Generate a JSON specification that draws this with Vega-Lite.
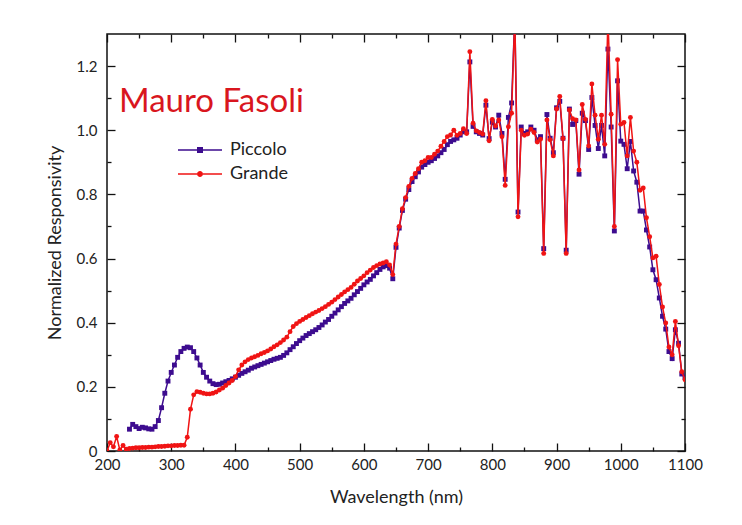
{
"$schema": "https://vega.github.io/schema/vega-lite/v6.json",
"width": 578, "height": 417,
"autosize": "none",
"padding": {"left": 107, "top": 34, "right": 57, "bottom": 74},
"background": "white",
"title": {"text": "Mauro Fasoli", "anchor": "start", "orient": "top", "frame": "group", "offset": 0, "dx": 12, "dy": 133, "baseline": "alphabetic", "font": "Lato", "fontSize": 33, "fontWeight": "normal", "color": "#d9161e"},
"config": {
  "view": {"stroke": "#111", "strokeWidth": 1.5},
  "axis": {"domain": false, "grid": false, "tickColor": "#111", "tickWidth": 1.3, "labelFont": "Lato", "labelFontSize": 15, "labelColor": "#222", "titleFont": "Lato", "titleFontSize": 18, "titleFontWeight": "normal", "titleColor": "#222"}
},
"data": {"values": [
{"series":"Piccolo","nm":235,"value":0.068},{"series":"Piccolo","nm":240,"value":0.083},{"series":"Piccolo","nm":245,"value":0.076},{"series":"Piccolo","nm":250,"value":0.07},{"series":"Piccolo","nm":255,"value":0.074},{"series":"Piccolo","nm":260,"value":0.072},{"series":"Piccolo","nm":265,"value":0.069},{"series":"Piccolo","nm":270,"value":0.068},{"series":"Piccolo","nm":275,"value":0.076},{"series":"Piccolo","nm":280,"value":0.095},{"series":"Piccolo","nm":285,"value":0.135},{"series":"Piccolo","nm":290,"value":0.18},{"series":"Piccolo","nm":295,"value":0.218},{"series":"Piccolo","nm":300,"value":0.245},{"series":"Piccolo","nm":305,"value":0.268},{"series":"Piccolo","nm":310,"value":0.292},{"series":"Piccolo","nm":315,"value":0.31},{"series":"Piccolo","nm":320,"value":0.32},{"series":"Piccolo","nm":325,"value":0.324},{"series":"Piccolo","nm":330,"value":0.322},{"series":"Piccolo","nm":335,"value":0.31},{"series":"Piccolo","nm":340,"value":0.29},{"series":"Piccolo","nm":345,"value":0.268},{"series":"Piccolo","nm":350,"value":0.245},{"series":"Piccolo","nm":355,"value":0.23},{"series":"Piccolo","nm":360,"value":0.218},{"series":"Piccolo","nm":365,"value":0.21},{"series":"Piccolo","nm":370,"value":0.207},{"series":"Piccolo","nm":375,"value":0.208},{"series":"Piccolo","nm":380,"value":0.212},{"series":"Piccolo","nm":385,"value":0.216},{"series":"Piccolo","nm":390,"value":0.22},{"series":"Piccolo","nm":395,"value":0.225},{"series":"Piccolo","nm":400,"value":0.23},{"series":"Piccolo","nm":405,"value":0.236},{"series":"Piccolo","nm":410,"value":0.242},{"series":"Piccolo","nm":415,"value":0.247},{"series":"Piccolo","nm":420,"value":0.252},{"series":"Piccolo","nm":425,"value":0.258},{"series":"Piccolo","nm":430,"value":0.262},{"series":"Piccolo","nm":435,"value":0.266},{"series":"Piccolo","nm":440,"value":0.27},{"series":"Piccolo","nm":445,"value":0.274},{"series":"Piccolo","nm":450,"value":0.278},{"series":"Piccolo","nm":455,"value":0.282},{"series":"Piccolo","nm":460,"value":0.286},{"series":"Piccolo","nm":465,"value":0.289},{"series":"Piccolo","nm":470,"value":0.292},{"series":"Piccolo","nm":475,"value":0.298},{"series":"Piccolo","nm":480,"value":0.306},{"series":"Piccolo","nm":485,"value":0.316},{"series":"Piccolo","nm":490,"value":0.325},{"series":"Piccolo","nm":495,"value":0.335},{"series":"Piccolo","nm":500,"value":0.344},{"series":"Piccolo","nm":505,"value":0.352},{"series":"Piccolo","nm":510,"value":0.36},{"series":"Piccolo","nm":515,"value":0.366},{"series":"Piccolo","nm":520,"value":0.372},{"series":"Piccolo","nm":525,"value":0.378},{"series":"Piccolo","nm":530,"value":0.385},{"series":"Piccolo","nm":535,"value":0.393},{"series":"Piccolo","nm":540,"value":0.402},{"series":"Piccolo","nm":545,"value":0.41},{"series":"Piccolo","nm":550,"value":0.42},{"series":"Piccolo","nm":555,"value":0.43},{"series":"Piccolo","nm":560,"value":0.44},{"series":"Piccolo","nm":565,"value":0.45},{"series":"Piccolo","nm":570,"value":0.46},{"series":"Piccolo","nm":575,"value":0.468},{"series":"Piccolo","nm":580,"value":0.476},{"series":"Piccolo","nm":585,"value":0.487},{"series":"Piccolo","nm":590,"value":0.497},{"series":"Piccolo","nm":595,"value":0.507},{"series":"Piccolo","nm":600,"value":0.518},{"series":"Piccolo","nm":605,"value":0.527},{"series":"Piccolo","nm":610,"value":0.535},{"series":"Piccolo","nm":615,"value":0.546},{"series":"Piccolo","nm":620,"value":0.556},{"series":"Piccolo","nm":625,"value":0.566},{"series":"Piccolo","nm":630,"value":0.574},{"series":"Piccolo","nm":635,"value":0.578},{"series":"Piccolo","nm":640,"value":0.57},{"series":"Piccolo","nm":645,"value":0.537},{"series":"Piccolo","nm":650,"value":0.635},{"series":"Piccolo","nm":655,"value":0.695},{"series":"Piccolo","nm":660,"value":0.75},{"series":"Piccolo","nm":665,"value":0.785},{"series":"Piccolo","nm":670,"value":0.815},{"series":"Piccolo","nm":675,"value":0.84},{"series":"Piccolo","nm":680,"value":0.855},{"series":"Piccolo","nm":685,"value":0.87},{"series":"Piccolo","nm":690,"value":0.885},{"series":"Piccolo","nm":695,"value":0.893},{"series":"Piccolo","nm":700,"value":0.9},{"series":"Piccolo","nm":705,"value":0.905},{"series":"Piccolo","nm":710,"value":0.912},{"series":"Piccolo","nm":715,"value":0.92},{"series":"Piccolo","nm":720,"value":0.93},{"series":"Piccolo","nm":725,"value":0.94},{"series":"Piccolo","nm":730,"value":0.955},{"series":"Piccolo","nm":735,"value":0.965},{"series":"Piccolo","nm":740,"value":0.97},{"series":"Piccolo","nm":745,"value":0.975},{"series":"Piccolo","nm":750,"value":0.985},{"series":"Piccolo","nm":755,"value":0.995},{"series":"Piccolo","nm":760,"value":0.995},{"series":"Piccolo","nm":765,"value":1.213},{"series":"Piccolo","nm":770,"value":1.012},{"series":"Piccolo","nm":775,"value":0.995},{"series":"Piccolo","nm":780,"value":0.99},{"series":"Piccolo","nm":785,"value":0.985},{"series":"Piccolo","nm":790,"value":1.078},{"series":"Piccolo","nm":795,"value":0.974},{"series":"Piccolo","nm":800,"value":1.025},{"series":"Piccolo","nm":805,"value":1.01},{"series":"Piccolo","nm":810,"value":1.047},{"series":"Piccolo","nm":815,"value":0.99},{"series":"Piccolo","nm":820,"value":0.847},{"series":"Piccolo","nm":825,"value":1.04},{"series":"Piccolo","nm":830,"value":1.085},{"series":"Piccolo","nm":835,"value":1.36},{"series":"Piccolo","nm":840,"value":0.745},{"series":"Piccolo","nm":845,"value":1.01},{"series":"Piccolo","nm":850,"value":0.99},{"series":"Piccolo","nm":855,"value":0.995},{"series":"Piccolo","nm":860,"value":1.01},{"series":"Piccolo","nm":865,"value":1.0},{"series":"Piccolo","nm":870,"value":0.97},{"series":"Piccolo","nm":875,"value":0.98},{"series":"Piccolo","nm":880,"value":0.631},{"series":"Piccolo","nm":885,"value":1.049},{"series":"Piccolo","nm":890,"value":0.975},{"series":"Piccolo","nm":895,"value":0.93},{"series":"Piccolo","nm":900,"value":1.07},{"series":"Piccolo","nm":905,"value":1.09},{"series":"Piccolo","nm":910,"value":0.975},{"series":"Piccolo","nm":915,"value":0.626},{"series":"Piccolo","nm":920,"value":1.066},{"series":"Piccolo","nm":925,"value":1.018},{"series":"Piccolo","nm":930,"value":1.03},{"series":"Piccolo","nm":935,"value":0.863},{"series":"Piccolo","nm":940,"value":1.053},{"series":"Piccolo","nm":945,"value":1.03},{"series":"Piccolo","nm":950,"value":0.94},{"series":"Piccolo","nm":955,"value":1.102},{"series":"Piccolo","nm":960,"value":1.015},{"series":"Piccolo","nm":965,"value":0.943},{"series":"Piccolo","nm":970,"value":1.015},{"series":"Piccolo","nm":975,"value":0.92},{"series":"Piccolo","nm":980,"value":1.253},{"series":"Piccolo","nm":985,"value":1.01},{"series":"Piccolo","nm":990,"value":0.686},{"series":"Piccolo","nm":995,"value":1.154},{"series":"Piccolo","nm":1000,"value":0.966},{"series":"Piccolo","nm":1005,"value":0.956},{"series":"Piccolo","nm":1010,"value":0.88},{"series":"Piccolo","nm":1015,"value":0.965},{"series":"Piccolo","nm":1020,"value":0.873},{"series":"Piccolo","nm":1025,"value":0.838},{"series":"Piccolo","nm":1030,"value":0.748},{"series":"Piccolo","nm":1035,"value":0.748},{"series":"Piccolo","nm":1040,"value":0.689},{"series":"Piccolo","nm":1045,"value":0.636},{"series":"Piccolo","nm":1050,"value":0.565},{"series":"Piccolo","nm":1055,"value":0.534},{"series":"Piccolo","nm":1060,"value":0.477},{"series":"Piccolo","nm":1065,"value":0.42},{"series":"Piccolo","nm":1070,"value":0.38},{"series":"Piccolo","nm":1075,"value":0.31},{"series":"Piccolo","nm":1080,"value":0.288},{"series":"Piccolo","nm":1085,"value":0.378},{"series":"Piccolo","nm":1090,"value":0.336},{"series":"Piccolo","nm":1095,"value":0.24},{"series":"Piccolo","nm":1100,"value":0.23},
{"series":"Grande","nm":200,"value":0.0},{"series":"Grande","nm":205,"value":0.026},{"series":"Grande","nm":210,"value":0.013},{"series":"Grande","nm":215,"value":0.045},{"series":"Grande","nm":220,"value":0.003},{"series":"Grande","nm":225,"value":0.017},{"series":"Grande","nm":230,"value":0.006},{"series":"Grande","nm":235,"value":0.008},{"series":"Grande","nm":240,"value":0.009},{"series":"Grande","nm":245,"value":0.01},{"series":"Grande","nm":250,"value":0.01},{"series":"Grande","nm":255,"value":0.011},{"series":"Grande","nm":260,"value":0.011},{"series":"Grande","nm":265,"value":0.012},{"series":"Grande","nm":270,"value":0.012},{"series":"Grande","nm":275,"value":0.013},{"series":"Grande","nm":280,"value":0.014},{"series":"Grande","nm":285,"value":0.014},{"series":"Grande","nm":290,"value":0.015},{"series":"Grande","nm":295,"value":0.016},{"series":"Grande","nm":300,"value":0.016},{"series":"Grande","nm":305,"value":0.017},{"series":"Grande","nm":310,"value":0.017},{"series":"Grande","nm":315,"value":0.018},{"series":"Grande","nm":320,"value":0.018},{"series":"Grande","nm":325,"value":0.043},{"series":"Grande","nm":330,"value":0.13},{"series":"Grande","nm":335,"value":0.175},{"series":"Grande","nm":340,"value":0.185},{"series":"Grande","nm":345,"value":0.183},{"series":"Grande","nm":350,"value":0.18},{"series":"Grande","nm":355,"value":0.178},{"series":"Grande","nm":360,"value":0.178},{"series":"Grande","nm":365,"value":0.18},{"series":"Grande","nm":370,"value":0.184},{"series":"Grande","nm":375,"value":0.19},{"series":"Grande","nm":380,"value":0.196},{"series":"Grande","nm":385,"value":0.204},{"series":"Grande","nm":390,"value":0.212},{"series":"Grande","nm":395,"value":0.22},{"series":"Grande","nm":400,"value":0.232},{"series":"Grande","nm":405,"value":0.253},{"series":"Grande","nm":410,"value":0.268},{"series":"Grande","nm":415,"value":0.278},{"series":"Grande","nm":420,"value":0.285},{"series":"Grande","nm":425,"value":0.29},{"series":"Grande","nm":430,"value":0.294},{"series":"Grande","nm":435,"value":0.298},{"series":"Grande","nm":440,"value":0.303},{"series":"Grande","nm":445,"value":0.307},{"series":"Grande","nm":450,"value":0.312},{"series":"Grande","nm":455,"value":0.318},{"series":"Grande","nm":460,"value":0.325},{"series":"Grande","nm":465,"value":0.331},{"series":"Grande","nm":470,"value":0.338},{"series":"Grande","nm":475,"value":0.346},{"series":"Grande","nm":480,"value":0.355},{"series":"Grande","nm":485,"value":0.372},{"series":"Grande","nm":490,"value":0.388},{"series":"Grande","nm":495,"value":0.397},{"series":"Grande","nm":500,"value":0.404},{"series":"Grande","nm":505,"value":0.41},{"series":"Grande","nm":510,"value":0.416},{"series":"Grande","nm":515,"value":0.422},{"series":"Grande","nm":520,"value":0.428},{"series":"Grande","nm":525,"value":0.433},{"series":"Grande","nm":530,"value":0.438},{"series":"Grande","nm":535,"value":0.444},{"series":"Grande","nm":540,"value":0.45},{"series":"Grande","nm":545,"value":0.457},{"series":"Grande","nm":550,"value":0.464},{"series":"Grande","nm":555,"value":0.472},{"series":"Grande","nm":560,"value":0.48},{"series":"Grande","nm":565,"value":0.488},{"series":"Grande","nm":570,"value":0.496},{"series":"Grande","nm":575,"value":0.503},{"series":"Grande","nm":580,"value":0.51},{"series":"Grande","nm":585,"value":0.52},{"series":"Grande","nm":590,"value":0.53},{"series":"Grande","nm":595,"value":0.538},{"series":"Grande","nm":600,"value":0.546},{"series":"Grande","nm":605,"value":0.556},{"series":"Grande","nm":610,"value":0.564},{"series":"Grande","nm":615,"value":0.572},{"series":"Grande","nm":620,"value":0.578},{"series":"Grande","nm":625,"value":0.583},{"series":"Grande","nm":630,"value":0.586},{"series":"Grande","nm":635,"value":0.59},{"series":"Grande","nm":640,"value":0.58},{"series":"Grande","nm":645,"value":0.55},{"series":"Grande","nm":650,"value":0.645},{"series":"Grande","nm":655,"value":0.7},{"series":"Grande","nm":660,"value":0.755},{"series":"Grande","nm":665,"value":0.79},{"series":"Grande","nm":670,"value":0.825},{"series":"Grande","nm":675,"value":0.85},{"series":"Grande","nm":680,"value":0.865},{"series":"Grande","nm":685,"value":0.88},{"series":"Grande","nm":690,"value":0.9},{"series":"Grande","nm":695,"value":0.905},{"series":"Grande","nm":700,"value":0.915},{"series":"Grande","nm":705,"value":0.915},{"series":"Grande","nm":710,"value":0.925},{"series":"Grande","nm":715,"value":0.935},{"series":"Grande","nm":720,"value":0.95},{"series":"Grande","nm":725,"value":0.965},{"series":"Grande","nm":730,"value":0.98},{"series":"Grande","nm":735,"value":0.985},{"series":"Grande","nm":740,"value":1.0},{"series":"Grande","nm":745,"value":0.984},{"series":"Grande","nm":750,"value":0.99},{"series":"Grande","nm":755,"value":1.005},{"series":"Grande","nm":760,"value":0.99},{"series":"Grande","nm":765,"value":1.245},{"series":"Grande","nm":770,"value":1.022},{"series":"Grande","nm":775,"value":0.998},{"series":"Grande","nm":780,"value":0.993},{"series":"Grande","nm":785,"value":0.988},{"series":"Grande","nm":790,"value":1.092},{"series":"Grande","nm":795,"value":0.967},{"series":"Grande","nm":800,"value":1.034},{"series":"Grande","nm":805,"value":1.013},{"series":"Grande","nm":810,"value":1.032},{"series":"Grande","nm":815,"value":0.98},{"series":"Grande","nm":820,"value":0.828},{"series":"Grande","nm":825,"value":1.011},{"series":"Grande","nm":830,"value":1.053},{"series":"Grande","nm":835,"value":1.36},{"series":"Grande","nm":840,"value":0.73},{"series":"Grande","nm":845,"value":1.0},{"series":"Grande","nm":850,"value":0.984},{"series":"Grande","nm":855,"value":0.988},{"series":"Grande","nm":860,"value":1.003},{"series":"Grande","nm":865,"value":0.993},{"series":"Grande","nm":870,"value":0.963},{"series":"Grande","nm":875,"value":0.972},{"series":"Grande","nm":880,"value":0.616},{"series":"Grande","nm":885,"value":1.032},{"series":"Grande","nm":890,"value":0.97},{"series":"Grande","nm":895,"value":0.92},{"series":"Grande","nm":900,"value":1.066},{"series":"Grande","nm":905,"value":1.105},{"series":"Grande","nm":910,"value":0.974},{"series":"Grande","nm":915,"value":0.616},{"series":"Grande","nm":920,"value":1.063},{"series":"Grande","nm":925,"value":1.036},{"series":"Grande","nm":930,"value":1.032},{"series":"Grande","nm":935,"value":0.876},{"series":"Grande","nm":940,"value":1.08},{"series":"Grande","nm":945,"value":1.034},{"series":"Grande","nm":950,"value":0.951},{"series":"Grande","nm":955,"value":1.144},{"series":"Grande","nm":960,"value":1.047},{"series":"Grande","nm":965,"value":0.972},{"series":"Grande","nm":970,"value":1.047},{"series":"Grande","nm":975,"value":0.956},{"series":"Grande","nm":980,"value":1.35},{"series":"Grande","nm":985,"value":1.05},{"series":"Grande","nm":990,"value":0.7},{"series":"Grande","nm":995,"value":1.22},{"series":"Grande","nm":1000,"value":1.019},{"series":"Grande","nm":1005,"value":1.024},{"series":"Grande","nm":1010,"value":0.92},{"series":"Grande","nm":1015,"value":1.04},{"series":"Grande","nm":1020,"value":0.935},{"series":"Grande","nm":1025,"value":0.9},{"series":"Grande","nm":1030,"value":0.813},{"series":"Grande","nm":1035,"value":0.82},{"series":"Grande","nm":1040,"value":0.727},{"series":"Grande","nm":1045,"value":0.668},{"series":"Grande","nm":1050,"value":0.602},{"series":"Grande","nm":1055,"value":0.607},{"series":"Grande","nm":1060,"value":0.519},{"series":"Grande","nm":1065,"value":0.449},{"series":"Grande","nm":1070,"value":0.399},{"series":"Grande","nm":1075,"value":0.324},{"series":"Grande","nm":1080,"value":0.3},{"series":"Grande","nm":1085,"value":0.404},{"series":"Grande","nm":1090,"value":0.328},{"series":"Grande","nm":1095,"value":0.247},{"series":"Grande","nm":1100,"value":0.222}
]},
"layer": [
  {
    "transform": [{"filter": "datum.series === 'Piccolo'"}],
    "mark": {"type": "line", "strokeWidth": 1.5, "clip": true},
    "encoding": {
      "x": {"field": "nm", "type": "quantitative", "scale": {"domain": [200, 1100], "nice": false, "zero": false},
            "axis": {"orient": "bottom", "title": "Wavelength (nm)", "format": "d", "values": [200,300,400,500,600,700,800,900,1000,1100], "tickSize": -8, "labelPadding": 14, "titlePadding": 16, "labelFlush": false}},
      "y": {"field": "value", "type": "quantitative", "scale": {"domain": [0, 1.3], "nice": false},
            "axis": {"orient": "left", "title": "Normalized Responsivity", "values": [0,0.2,0.4,0.6,0.8,1.0,1.2], "labelExpr": "datum.value == 0 ? '0' : format(datum.value, '.1f')", "tickSize": -8, "labelPadding": 18, "titlePadding": 12, "labelFlush": false}},
      "color": {"field": "series", "type": "nominal", "scale": {"domain": ["Piccolo", "Grande"], "range": ["#3d0c8f", "#f01414"]},
        "legend": {"orient": "none", "legendX": 83, "legendY": 106, "title": null, "padding": 0, "symbolSize": 400, "rowPadding": 5, "labelOffset": 20, "labelFont": "Lato", "labelFontSize": 18, "labelColor": "#222",
          "encode": {"symbols": {"update": {
            "shape": {"signal": "datum.value === 'Piccolo' ? 'M-2.2,-0.08H-0.3V0.08H-2.2Z M0.3,-0.08H2.2V0.08H0.3Z M-0.3,-0.3H0.3V0.3H-0.3Z' : 'M-2.2,-0.08H-0.3V0.08H-2.2Z M0.3,-0.08H2.2V0.08H0.3Z M-0.3,0A0.3,0.3 0 1,1 0.3,0A0.3,0.3 0 1,1 -0.3,0Z'"},
            "fill": {"scale": "color", "field": "value"},
            "stroke": {"value": "transparent"},
            "strokeWidth": {"value": 0},
            "opacity": {"value": 1}
          }}}}}
    }
  },
  {
    "transform": [{"filter": "datum.series === 'Piccolo'"}],
    "mark": {"type": "point", "shape": "square", "filled": true, "size": 24, "opacity": 1, "clip": true},
    "encoding": {
      "x": {"field": "nm", "type": "quantitative", "axis": null},
      "y": {"field": "value", "type": "quantitative", "axis": null},
      "color": {"field": "series", "type": "nominal"}
    }
  },
  {
    "transform": [{"filter": "datum.series === 'Grande'"}],
    "mark": {"type": "line", "strokeWidth": 1.5, "clip": true},
    "encoding": {
      "x": {"field": "nm", "type": "quantitative", "axis": null},
      "y": {"field": "value", "type": "quantitative", "axis": null},
      "color": {"field": "series", "type": "nominal"}
    }
  },
  {
    "transform": [{"filter": "datum.series === 'Grande'"}],
    "mark": {"type": "point", "shape": "circle", "filled": true, "size": 24, "opacity": 1, "clip": true},
    "encoding": {
      "x": {"field": "nm", "type": "quantitative", "axis": null},
      "y": {"field": "value", "type": "quantitative", "axis": null},
      "color": {"field": "series", "type": "nominal"}
    }
  },
  {
    "mark": {"type": "point", "opacity": 0},
    "encoding": {
      "x": {"field": "nm", "type": "quantitative", "axis": {"orient": "top", "title": null, "labels": false, "values": [200,300,400,500,600,700,800,900,1000,1100], "tickSize": -8}},
      "y": {"field": "value", "type": "quantitative", "axis": {"orient": "right", "title": null, "labels": false, "values": [0,0.2,0.4,0.6,0.8,1.0,1.2], "tickSize": -8}}
    }
  },
  {
    "mark": {"type": "point", "opacity": 0},
    "encoding": {
      "x": {"field": "nm", "type": "quantitative", "axis": {"orient": "bottom", "title": null, "labels": false, "values": [250,350,450,550,650,750,850,950,1050], "tickSize": -4}},
      "y": {"field": "value", "type": "quantitative", "axis": {"orient": "left", "title": null, "labels": false, "values": [0.1,0.3,0.5,0.7,0.9,1.1], "tickSize": -4}}
    }
  },
  {
    "mark": {"type": "point", "opacity": 0},
    "encoding": {
      "x": {"field": "nm", "type": "quantitative", "axis": {"orient": "top", "title": null, "labels": false, "values": [250,350,450,550,650,750,850,950,1050], "tickSize": -4}},
      "y": {"field": "value", "type": "quantitative", "axis": {"orient": "right", "title": null, "labels": false, "values": [0.1,0.3,0.5,0.7,0.9,1.1], "tickSize": -4}}
    }
  }
],
"resolve": {"axis": {"x": "independent", "y": "independent"}}
}
